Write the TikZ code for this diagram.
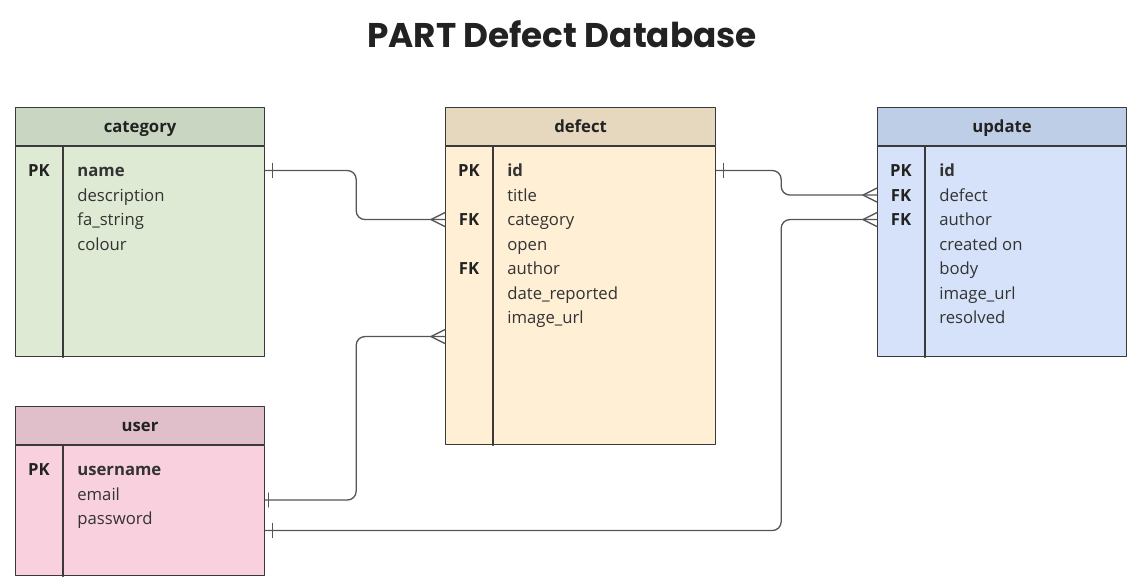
\documentclass[tikz,border=0pt]{standalone}
\usepackage{fontspec}
\setmainfont{Open Sans}
\newfontfamily\titlefont{Poppins}
\usetikzlibrary{positioning,calc}
\definecolor{catHead}{RGB}{201,214,194}
\definecolor{catBody}{RGB}{222,234,212}
\definecolor{defHead}{RGB}{230,216,190}
\definecolor{defBody}{RGB}{254,239,213}
\definecolor{updHead}{RGB}{190,206,230}
\definecolor{updBody}{RGB}{214,226,249}
\definecolor{usrHead}{RGB}{224,190,202}
\definecolor{usrBody}{RGB}{249,208,222}
\definecolor{tblBorder}{RGB}{58,58,58}
\definecolor{linkGrey}{RGB}{85,85,85}
\definecolor{keyText}{RGB}{34,34,34}
\definecolor{fieldText}{RGB}{51,51,51}
\tikzset{
  erone/.pic={\draw[link] (7,-7) -- (7,7);},
  ermany/.pic={\draw[link] (-14,0) -- (0,-7) (-14,0) -- (0,7);},
}
\begin{document}
\begin{tikzpicture}[x=0.02cm,y=-0.02cm,line join=round,line cap=round,
    font=\fontsize{9.5}{11}\selectfont,
    tblline/.style={draw=tblBorder,line width=0.7pt},
    head/.style={tblline,anchor=north west,minimum width=4.98cm,minimum height=0.76cm,inner sep=0pt,
      text height=9pt,text depth=2.2pt,font=\fontsize{9.5}{11}\selectfont\bfseries,text=keyText},
    body/.style={tblline,minimum width=4.98cm,inner sep=0pt},
    key/.style={anchor=base,inner sep=0pt,text height=6.8pt,text depth=0pt,
      font=\fontsize{9.5}{11}\selectfont\bfseries,text=keyText},
    field/.style={anchor=base west,inner sep=0pt,text height=6.8pt,text depth=0pt,text=fieldText},
    link/.style={draw=linkGrey,line width=0.75pt,rounded corners=5pt}]
  \useasboundingbox (0,0) rectangle (1137,586);
  \node[font=\titlefont\fontsize{19.5}{22}\selectfont\bfseries,text=keyText] (title) at (562,34) {PART Defect Database};

  % category
  \node[head,fill=catHead] (category-head) at (15,107) {category};
  \node[body,fill=catBody,minimum height=4.2cm,below=0pt of category-head] (category) {};
  \draw[tblline] ([xshift=0.96cm]category.north west) -- ([xshift=0.96cm]category.south west);
  \foreach \k/\f [count=\i] in {PK/{\bfseries name},/description,/fa\_string,/colour}{
    \node[key] (category-k\i) at (39,{152+24.5*\i}) {\k};
    \node[field] (category-\i) at (77,{152+24.5*\i}) {\f};
  }

  % defect
  \node[head,fill=defHead,minimum width=5.4cm] (defect-head) at (445,107) {defect};
  \node[body,fill=defBody,minimum width=5.4cm,minimum height=5.96cm,below=0pt of defect-head] (defect) {};
  \draw[tblline] ([xshift=0.96cm]defect.north west) -- ([xshift=0.96cm]defect.south west);
  \foreach \k/\f [count=\i] in {PK/{\bfseries id},/title,FK/category,/open,FK/author,/date\_reported,/image\_url}{
    \node[key] (defect-k\i) at (469,{152+24.5*\i}) {\k};
    \node[field] (defect-\i) at (507,{152+24.5*\i}) {\f};
  }

  % update
  \node[head,fill=updHead] (update-head) at (877,107) {update};
  \node[body,fill=updBody,minimum height=4.2cm,below=0pt of update-head] (update) {};
  \draw[tblline] ([xshift=0.96cm]update.north west) -- ([xshift=0.96cm]update.south west);
  \foreach \k/\f [count=\i] in {PK/{\bfseries id},FK/defect,FK/author,/created on,/body,/image\_url,/resolved}{
    \node[key] (update-k\i) at (901,{152+24.5*\i}) {\k};
    \node[field] (update-\i) at (939,{152+24.5*\i}) {\f};
  }

  % user
  \node[head,fill=usrHead] (user-head) at (15,406) {user};
  \node[body,fill=usrBody,minimum height=2.6cm,below=0pt of user-head] (user) {};
  \draw[tblline] ([xshift=0.96cm]user.north west) -- ([xshift=0.96cm]user.south west);
  \foreach \k/\f [count=\i] in {PK/{\bfseries username},/email,/password}{
    \node[key] (user-k\i) at (39,{451+24.5*\i}) {\k};
    \node[field] (user-\i) at (77,{451+24.5*\i}) {\f};
  }

  % relations
  \draw[link] (category.east |- category-1) -- ++(91,0) |- (defect.west |- defect-3);
  \draw[link] (user.east |- user-2.base) -- ++(91,0) |- ($(defect.west |- defect-7)+(0,19)$);
  \draw[link] (defect.east |- defect-1) -- ++(65,0) |- (update.west |- update-2);
  \draw[link] ($(user.east |- user-3.base)+(0,6)$) -- ++(516,0) |- (update.west |- update-3);
  \pic at (category.east |- category-1) {erone};
  \pic at ([xshift=-0.08cm]user.east |- user-2.base) {erone};
  \pic at (defect.east |- defect-1) {erone};
  \pic at ($(user.east |- user-3.base)+(0,6)$) {erone};
  \pic at (defect.west |- defect-3) {ermany};
  \pic at ($(defect.west |- defect-7)+(0,19)$) {ermany};
  \pic at (update.west |- update-2) {ermany};
  \pic at (update.west |- update-3) {ermany};
\end{tikzpicture}
\end{document}
